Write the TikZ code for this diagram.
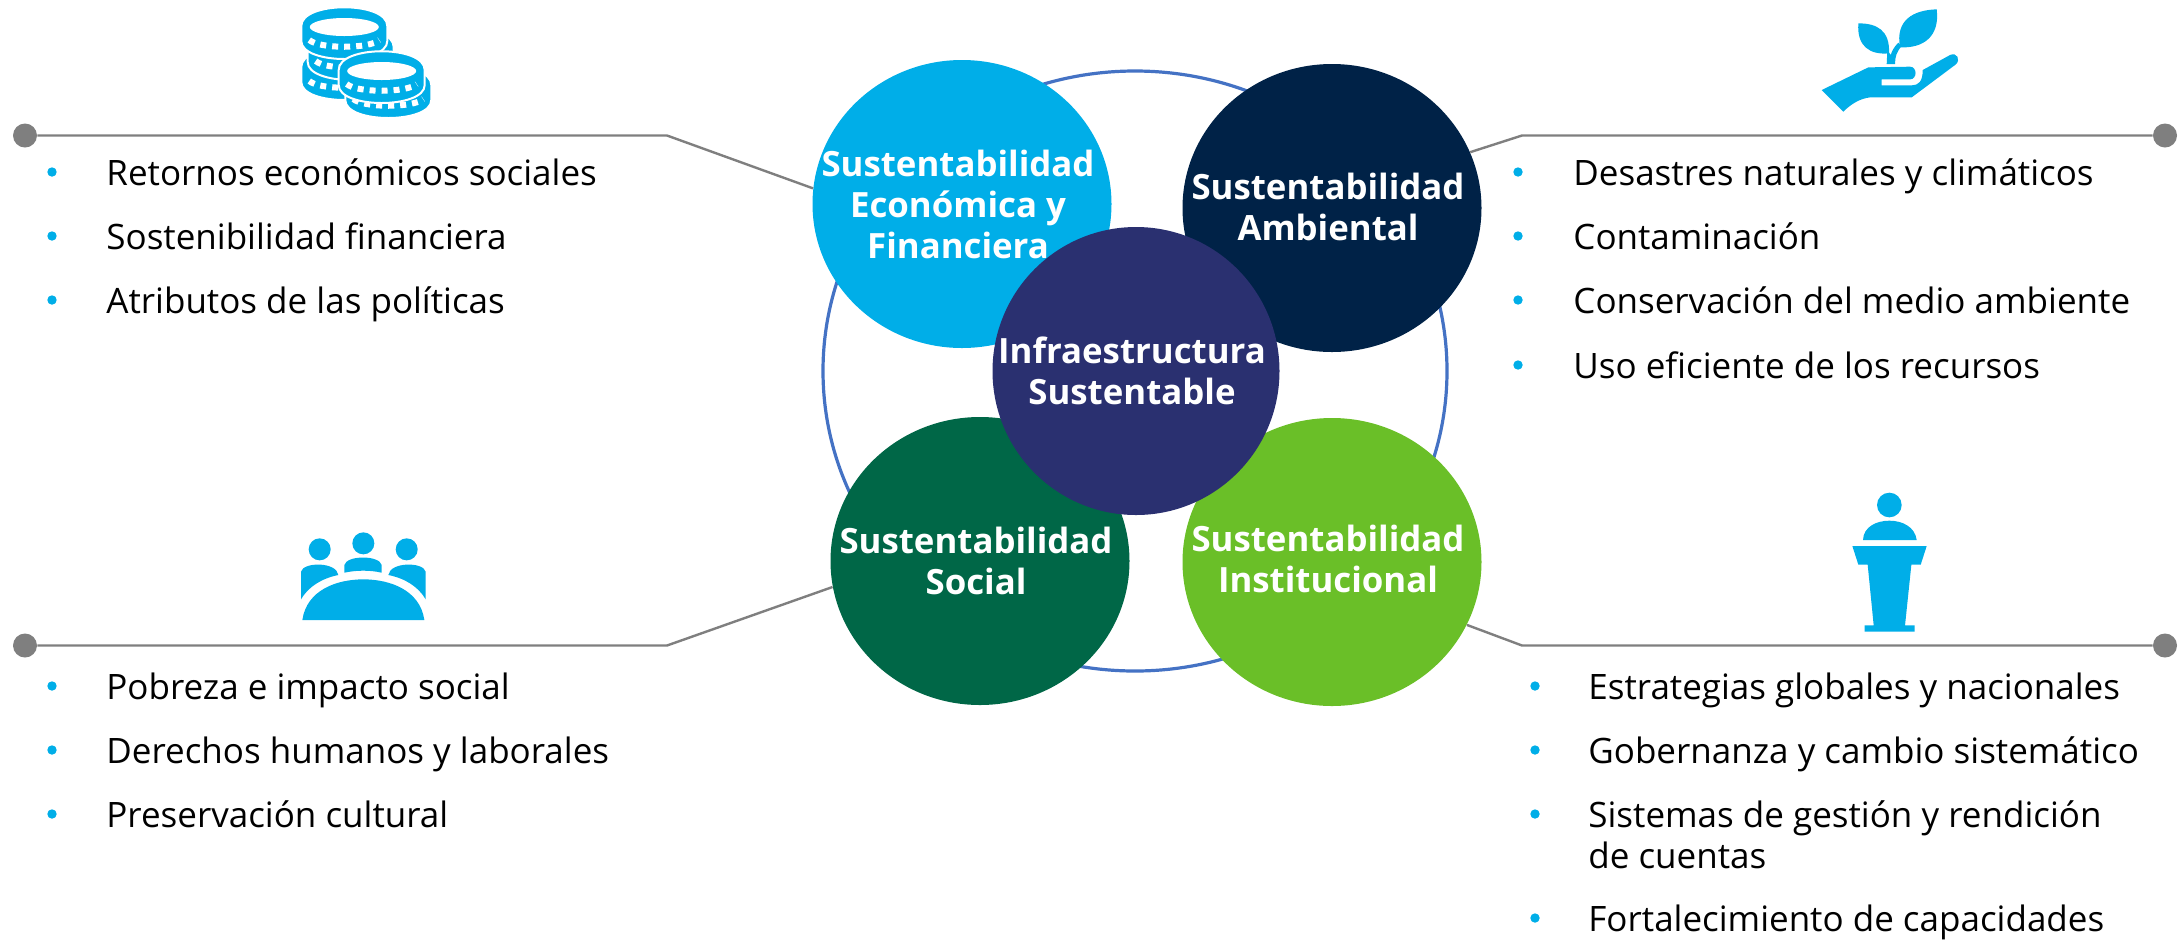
\documentclass[tikz,border=0pt]{standalone}
\usepackage{fontspec}
\setmainfont{Open Sans}
\usetikzlibrary{shapes.geometric}
\definecolor{cyanicon}{RGB}{0,174,232}
\definecolor{navycirc}{RGB}{0,34,71}
\definecolor{infracirc}{RGB}{42,48,112}
\definecolor{socialcirc}{RGB}{0,103,71}
\definecolor{instcirc}{RGB}{106,191,40}
\definecolor{ringblue}{RGB}{68,114,196}
\definecolor{leadgray}{RGB}{127,127,127}
\tikzset{
	x=0.5pt,y=-0.5pt,
	pilar/.style={ellipse,inner sep=0pt,minimum width=149.5pt,minimum height=144pt},
	pilartxt/.style={text=white,align=center,inner sep=0pt,xshift=-2pt,font=\fontsize{17.4}{20.5}\selectfont\bfseries},
	ring/.style={ellipse,draw=ringblue,line width=1.6pt,inner sep=0pt,minimum width=312pt,minimum height=300pt},
	enddot/.style={circle,fill=leadgray,inner sep=0pt,minimum size=12pt},
	lead/.style={draw=leadgray,line width=1.2pt},
	itemtxt/.style={anchor=base west,inner sep=0pt,align=left,font=\fontsize{17.5}{21}\selectfont},
	bullet/.style={circle,fill=cyanicon,inner sep=0pt,minimum size=4.7pt},
	iconfill/.style={fill=cyanicon}
}
\begin{document}
\begin{tikzpicture}
\useasboundingbox (0,0) rectangle (2180,939);
\node[ring] (anillo) at (1135,371) {};
\node[pilar,fill=cyanicon] (econ) at (962,204) {};
\node[pilartxt] (econtxt) at (econ) {Sustentabilidad\\Económica y\\Financiera};
\node[pilar,fill=navycirc] (amb) at (1332,208) {};
\node[pilartxt,yshift=0.7pt] (ambtxt) at (amb) {Sustentabilidad\\Ambiental};
\node[pilar,fill=socialcirc] (soc) at (980,561) {};
\node[pilartxt] (soctxt) at (soc) {Sustentabilidad\\Social};
\node[pilar,fill=instcirc] (inst) at (1332,562) {};
\node[pilartxt,yshift=1.5pt] (insttxt) at (inst) {Sustentabilidad\\Institucional};
\node[pilar,fill=infracirc,minimum width=143.5pt,minimum height=144pt] (infra) at (1136,371) {};
\node[pilartxt] (infratxt) at (infra) {Infraestructura\\Sustentable};
% lineas
\node[enddot] (dotA) at (25,135.5) {};
\node[enddot] (dotB) at (2165,135.5) {};
\node[enddot] (dotC) at (25,645.5) {};
\node[enddot] (dotD) at (2165,645.5) {};
\coordinate (codoA) at (667,135.5);
\coordinate (codoB) at (1522,135.5);
\coordinate (codoC) at (667,645.5);
\coordinate (codoD) at (1522,645.5);
\draw[lead] (dotA) -- (codoA) -- (econ.174);
\draw[lead] (dotB) -- (codoB) -- (amb.22);
\draw[lead] (dotC) -- (codoC) -- (soc.190);
\draw[lead] (dotD) -- (codoD) -- (inst.-25);
% listas
\foreach \n/\y/\txt in {1/185/Retornos económicos sociales,2/249/Sostenibilidad financiera,3/313/Atributos de las políticas} {
	\node[bullet] (ba\n) at (52,{\y-13}) {};
	\node[itemtxt] (ta\n) at (106,\y) {\txt};
}
\foreach \n/\y/\txt in {1/185/Desastres naturales y climáticos,2/249/Contaminación,3/313/Conservación del medio ambiente,4/378/Uso eficiente de los recursos} {
	\node[bullet] (bb\n) at (1518,{\y-13}) {};
	\node[itemtxt] (tb\n) at (1573,\y) {\txt};
}
\foreach \n/\y/\txt in {1/699/Pobreza e impacto social,2/763/Derechos humanos y laborales,3/827/Preservación cultural} {
	\node[bullet] (bc\n) at (52,{\y-13}) {};
	\node[itemtxt] (tc\n) at (106,\y) {\txt};
}
\foreach \n/\y/\txt in {1/699/Estrategias globales y nacionales,2/763/Gobernanza y cambio sistemático,3/827/Sistemas de gestión y rendición,5/931/Fortalecimiento de capacidades} {
	\node[bullet] (bd\n) at (1535,{\y-13}) {};
	\node[itemtxt] (td\n) at (1588,\y) {\txt};
}
\node[itemtxt] (td4) at (1588,868) {de cuentas};
% monedas
\foreach \cx/\cy/\tapa in {344.3/67/0,350.7/47/0,344.3/26/1,388.3/85/0,381.7/70/1} {
	\begin{scope}[shift={(\cx,\cy)}]
		\path[iconfill,draw=white,line width=1pt] (-43,0) .. controls (-43,-25) and (43,-25) .. (43,0) -- (43,15) .. controls (43,39) and (-43,39) .. (-43,15) -- cycle;
		\draw[white,line width=3pt,dash pattern=on 3pt off 3pt] (-35,14) .. controls (-25,23) and (25,23) .. (35,14);
		\ifnum\tapa=1
			\fill[white] (0,1) circle [x radius=34.5,y radius=9];
		\fi
	\end{scope}
}
% mano
\begin{scope}[shift={(1780,0)},x=0.1667pt,y=-0.1667pt]
	\fill[iconfill] (125,270) -- (265,202) -- (390,200) .. controls (412,200) and (412,238) .. (390,238) -- (305,238) -- (305,256) -- (395,256) .. controls (415,256) and (428,245) .. (428,210) -- (510,165) .. controls (530,155) and (545,180) .. (525,195) -- (395,292) -- (270,292) .. controls (240,296) and (215,310) .. (190,335) -- cycle;
	\fill[iconfill] (235,70) .. controls (290,70) and (330,90) .. (327,160) .. controls (270,165) and (230,140) .. (235,70) -- cycle;
	\fill[iconfill] (470,28) .. controls (400,30) and (345,60) .. (360,142) .. controls (430,145) and (480,110) .. (470,28) -- cycle;
	\fill[iconfill] (320,192) -- (345,192) .. controls (345,170) and (350,155) .. (365,138) -- (355,128) .. controls (342,140) and (335,155) .. (332,165) -- (322,150) -- cycle;
\end{scope}
% mesa
\begin{scope}[shift={(280,520)},x=0.1667pt,y=-0.1667pt]
	\fill[iconfill] (119,88) circle [radius=33];
	\fill[iconfill] (250,70) circle [radius=33];
	\fill[iconfill] (380,88) circle [radius=33];
	\fill[iconfill] (63,238) -- (63,155) .. controls (70,125) and (170,125) .. (175,165) .. controls (125,175) and (85,200) .. (63,238) -- cycle;
	\fill[iconfill] (437,238) -- (437,155) .. controls (430,125) and (330,125) .. (325,165) .. controls (375,175) and (415,200) .. (437,238) -- cycle;
	\fill[iconfill] (193,158) -- (193,135) .. controls (200,105) and (298,105) .. (305,135) -- (305,158) .. controls (270,150) and (230,150) .. (193,158) -- cycle;
	\fill[iconfill] (67,300) .. controls (80,210) and (170,178) .. (250,178) .. controls (330,178) and (420,210) .. (433,300) -- cycle;
\end{scope}
% podio
\begin{scope}[shift={(1820,480)},x=0.1667pt,y=-0.1667pt]
	\fill[iconfill] (208,75) circle [radius=37];
	\fill[iconfill] (129,180) .. controls (130,140) and (170,122) .. (208,122) .. controls (246,122) and (285,140) .. (290,180) -- cycle;
	\fill[iconfill] (97,198) -- (320,198) -- (302,254) -- (274,254) -- (255,436) -- (284,436) -- (284,455) -- (134,455) -- (134,436) -- (161,436) -- (143,254) -- (115,254) -- cycle;
\end{scope}
\end{tikzpicture}
\end{document}
